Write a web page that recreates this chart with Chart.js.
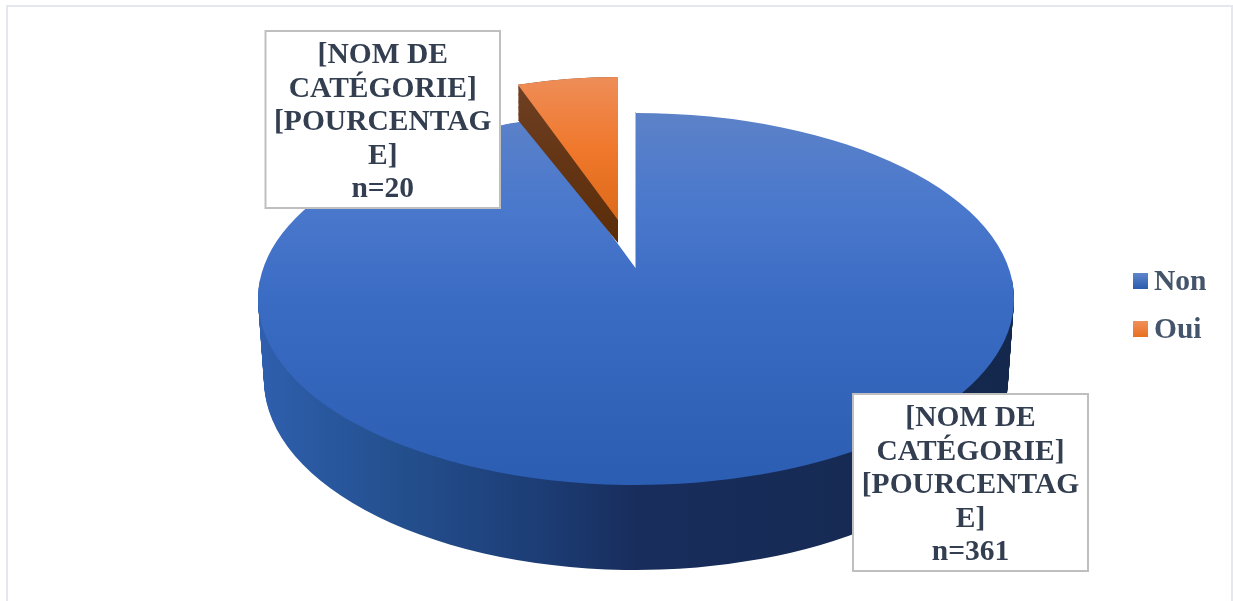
<!DOCTYPE html>
<html lang="fr">
<head>
<meta charset="utf-8">
<title>Non / Oui</title>
<script src="https://cdn.jsdelivr.net/npm/chart.js@4/dist/chart.umd.min.js"></script>
<style>
    html, body { margin: 0; padding: 0; background: #fff; overflow: hidden; }
    #frame { position: absolute; left: 6px; top: 5px; width: 1227px; height: 620px; border: 2px solid #e4e8ee; box-sizing: border-box; }
    #pie-chart { position: absolute; left: 0; top: 0; display: block; }
</style>
</head>
<body>
<div id="frame"></div>
<canvas id="pie-chart" width="1233" height="601"></canvas>
<script>
const categories = ['Non', 'Oui'];
const counts = [361, 20];
const labelPlaceholders = ['[NOM DE', 'CATÉGORIE]', '[POURCENTAG', 'E]'];

const FONT = '"Liberation Serif", "Times New Roman", serif';

// ellipses du pseudo 3D (pixels de la page)
const faceNon = { cx: 636, cy: 299, rx: 378, ry: 186 };
const faceNonNotch = { cx: 635.5, cy: 268, rx: 333, ry: 156 };
const baseNon = { cx: 636, cy: 380, rx: 372, ry: 190 };
const faceOui = { cx: 618, cy: 220, rx: 309, ry: 143 };
const baseOui = { cx: 618, cy: 243, rx: 309, ry: 130 };

function lerpEllipse(a, b, t) {
    return {
        cx: a.cx + (b.cx - a.cx) * t,
        cy: a.cy + (b.cy - a.cy) * t,
        rx: a.rx + (b.rx - a.rx) * t,
        ry: a.ry + (b.ry - a.ry) * t
    };
}

// dessine un arc de Chart.js aplati sur une ellipse
function drawArcOn(ctx, arc, e, makeFill) {
    const R = arc.outerRadius;
    const toLocalX = (x) => (x - e.cx) * R / e.rx + arc.x;
    const toLocalY = (y) => (y - e.cy) * R / e.ry + arc.y;
    ctx.save();
    ctx.translate(e.cx, e.cy);
    ctx.scale(e.rx / R, e.ry / R);
    ctx.translate(-arc.x, -arc.y);
    const saved = arc.options;
    arc.options = { ...saved, backgroundColor: makeFill(toLocalX, toLocalY), borderWidth: 0 };
    arc.draw(ctx);
    arc.options = saved;
    ctx.restore();
}

function verticalFill(ctx, y0, y1, stops) {
    return (lx, ly) => {
        const g = ctx.createLinearGradient(0, ly(y0), 0, ly(y1));
        stops.forEach(([p, c]) => g.addColorStop(p, c));
        return g;
    };
}

function drawDataLabel(ctx, left, top, right, bottom, count) {
    ctx.fillStyle = '#ffffff';
    ctx.fillRect(left, top, right - left, bottom - top);
    ctx.strokeStyle = '#bfbfbf';
    ctx.lineWidth = 2;
    ctx.strokeRect(left, top, right - left, bottom - top);
    ctx.fillStyle = '#333f50';
    ctx.font = 'bold 29.5px ' + FONT;
    ctx.textAlign = 'center';
    ctx.textBaseline = 'alphabetic';
    const lines = [...labelPlaceholders, 'n=' + count];
    lines.forEach((line, i) => {
        ctx.fillText(line, (left + right) / 2, top + 32 + i * 33.6);
    });
}

function drawLegend(ctx) {
    const rows = [
        { y: 273, top: '#5f86cc', bottom: '#2a5cae' },
        { y: 321, top: '#f0905a', bottom: '#e8701f' }
    ];
    categories.forEach((name, i) => {
        const g = ctx.createLinearGradient(0, rows[i].y, 0, rows[i].y + 16);
        g.addColorStop(0, rows[i].top);
        g.addColorStop(1, rows[i].bottom);
        ctx.fillStyle = g;
        ctx.fillRect(1133, rows[i].y, 15, 16);
        ctx.fillStyle = '#44546a';
        ctx.font = 'bold 29.5px ' + FONT;
        ctx.textAlign = 'left';
        ctx.textBaseline = 'alphabetic';
        ctx.fillText(name, 1154, rows[i].y + 17);
    });
}

const pie3d = {
    id: 'pie3d',
    beforeDatasetsDraw(chart) {
        const ctx = chart.ctx;
        const [arcNon, arcOui] = chart.getDatasetMeta(0).data;

        // tranche bleue : paroi
        const wallFill = (lx) => {
            const g = ctx.createLinearGradient(lx(258), 0, lx(1014), 0);
            g.addColorStop(0, '#2f5fae');
            g.addColorStop(0.18, '#24508f');
            g.addColorStop(0.38, '#1c3c74');
            g.addColorStop(0.5, '#182d5c');
            g.addColorStop(1, '#14284d');
            return g;
        };
        ctx.save();
        ctx.beginPath();
        ctx.rect(0, 280, 1233, 321);
        ctx.clip();
        for (let i = 60; i >= 0; i--) {
            drawArcOn(ctx, arcNon, lerpEllipse(faceNon, baseNon, i / 60), wallFill);
        }
        ctx.restore();

        // tranche bleue : dessus
        const faceStops = [[0, '#5c82c8'], [0.25, '#4a78cc'], [0.5, '#3b6cc4'], [1, '#2b5db2']];
        const faceFill = verticalFill(ctx, 113, 485, faceStops);
        drawArcOn(ctx, arcNon, faceNon, faceFill);
        ctx.save();
        ctx.beginPath();
        ctx.rect(505, 100, 131, 200);
        ctx.clip();
        drawArcOn(ctx, arcNon, faceNonNotch, faceFill);
        ctx.restore();

        // tranche orange détachée
        const brownFill = verticalFill(ctx, 85, 243, [[0, '#6e3f22'], [1, '#5a2c08']]);
        for (let i = 30; i >= 0; i--) {
            drawArcOn(ctx, arcOui, lerpEllipse(faceOui, baseOui, i / 30), brownFill);
        }
        drawArcOn(ctx, arcOui, faceOui, verticalFill(ctx, 77, 220, [[0, '#ee8d58'], [0.5, '#f0782c'], [1, '#dd6a1a']]));

        drawDataLabel(ctx, 265.5, 31, 500, 208, counts[1]);
        drawDataLabel(ctx, 853, 394, 1088, 571, counts[0]);
        drawLegend(ctx);
        return false;
    }
};

document.addEventListener('DOMContentLoaded', () => {
    new Chart(document.getElementById('pie-chart').getContext('2d'), {
        type: 'pie',
        data: {
            labels: categories,
            datasets: [{ data: counts, backgroundColor: ['#3b6cc4', '#f0782c'], borderWidth: 0 }]
        },
        options: {
            responsive: false,
            animation: false,
            plugins: {
                legend: { display: false },
                tooltip: { enabled: false }
            }
        },
        plugins: [pie3d]
    });
});
</script>
</body>
</html>
